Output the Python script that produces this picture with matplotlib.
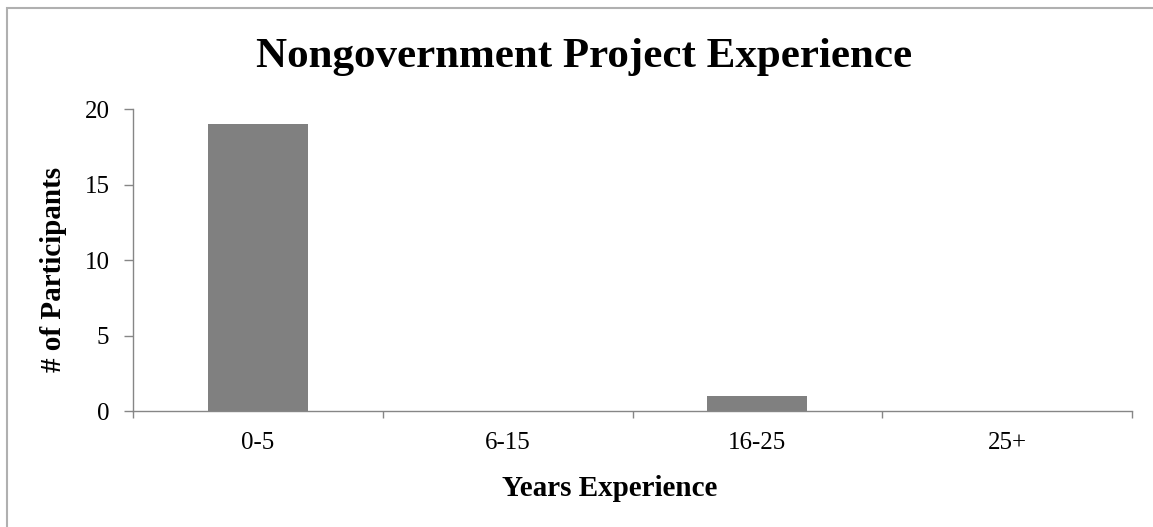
import matplotlib
matplotlib.use("Agg")
import matplotlib.pyplot as plt
from matplotlib.patches import Rectangle
import numpy as np

categories = ["0-5", "6-15", "16-25", "25+"]
values = [19, 0, 1, 0]
yticks = [0, 5, 10, 15, 20]

plt.rcParams['font.family'] = ['Liberation Serif', 'DejaVu Serif']

W, H = 1153, 527
fig = plt.figure(figsize=(W / 100, H / 100), dpi=100)
ax = fig.add_axes([133/W, 1-411/H, (1132-133)/W, (411-109.3)/H])

x = np.arange(len(categories))
ax.bar(x, values, width=0.4, color="#808080", zorder=2)
ax.set_xlim(-0.5, len(categories) - 0.5)
ax.set_ylim(0, 20)
ax.set_yticks(yticks)
ax.set_yticklabels([str(v) for v in yticks], fontsize=18)
ax.set_xticks(x)
ax.set_xticklabels(categories, fontsize=18)
ax.set_xticks(np.arange(len(categories) + 1) - 0.5, minor=True)
ax.tick_params(axis='x', which='major', length=0, pad=15)
ax.tick_params(axis='x', which='minor', length=5, color="#868686", width=1)
ax.tick_params(axis='y', length=6.5, color="#868686", width=1, pad=10.5)

for s in ['top', 'right']:
    ax.spines[s].set_visible(False)
for s in ['left', 'bottom']:
    ax.spines[s].set_color("#868686")
    ax.spines[s].set_linewidth(1)

fig.text(584/W, 1-67/H, "Nongovernment Project Experience", ha='center', va='baseline',
         fontsize=31, fontweight='bold')
fig.text(54/W, 1-269/H, "# of Participants", ha='center', va='center', rotation=90,
         fontsize=21, fontweight='bold')
fig.text(610/W, 1-496/H, "Years Experience", ha='center', va='baseline',
         fontsize=21, fontweight='bold')

fig.patches.append(Rectangle((6.5/W, -0.1), 1.2, 1 - 7.5/H + 0.1, transform=fig.transFigure,
                             fill=False, edgecolor="#b0b0b0", linewidth=1.5))

fig.savefig("out.png", dpi=100)
